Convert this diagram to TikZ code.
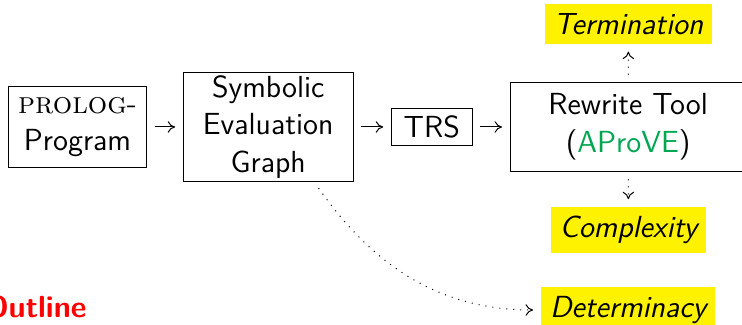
\documentclass[tikz,border=0pt]{standalone}
\usepackage{fontspec}
\usepackage{tikz}
\usetikzlibrary{arrows.meta}

\definecolor{aprove}{RGB}{0,166,81}

\begin{document}
\begin{tikzpicture}[
    font=\fontsize{12.2}{15}\selectfont\sffamily,
    box/.style={draw, align=center, inner sep=0pt},
    result/.style={fill=yellow, inner sep=3.6pt, font=\fontsize{12.2}{15}\selectfont\sffamily\itshape},
    flow/.style={-{To[length=3pt, width=4.6pt]}, shorten >=3pt, shorten <=3pt},
    dots/.style={flow, dash pattern=on 0.4pt off 2.4pt}]
    \useasboundingbox (0,0) rectangle (10.431,4.555);

    \node[box, minimum width=1.95cm, minimum height=1.15cm] (prolog) at (1.09,2.77) {{\rmfamily\textsc{prolog}-}\\Program};
    \node[box, minimum width=2.39cm, minimum height=1.53cm] (seg) at (3.77,2.77) {Symbolic\\Evaluation\\Graph};
    \node[box, minimum width=1.14cm, minimum height=0.52cm] (trs) at (6.07,2.77) {TRS};
    \node[box, minimum width=3.32cm, minimum height=1.25cm] (tool) at (8.83,2.77) {Rewrite Tool\\(\textcolor{aprove}{AProVE})};

    \node[result] (term) at (8.835,4.218) {Termination};
    \node[result] (cplx) at (8.835,1.321) {Complexity};
    \node[result] (det) at (8.83,0.197) {Determinacy};

    \draw[flow] (prolog) -- (seg);
    \draw[flow] (seg) -- (trs);
    \draw[flow] (trs) -- (tool);

    \draw[dots] (tool) -- (term);
    \draw[dots] (tool) -- (cplx);
    \draw[dots] (seg.-50) to[out=-55, in=180] (det);

    \node[anchor=base east, inner sep=0pt, text=red, font=\fontsize{12.2}{15}\selectfont\sffamily\bfseries] (outline) at (1.223,0.098) {Outline};
\end{tikzpicture}
\end{document}
